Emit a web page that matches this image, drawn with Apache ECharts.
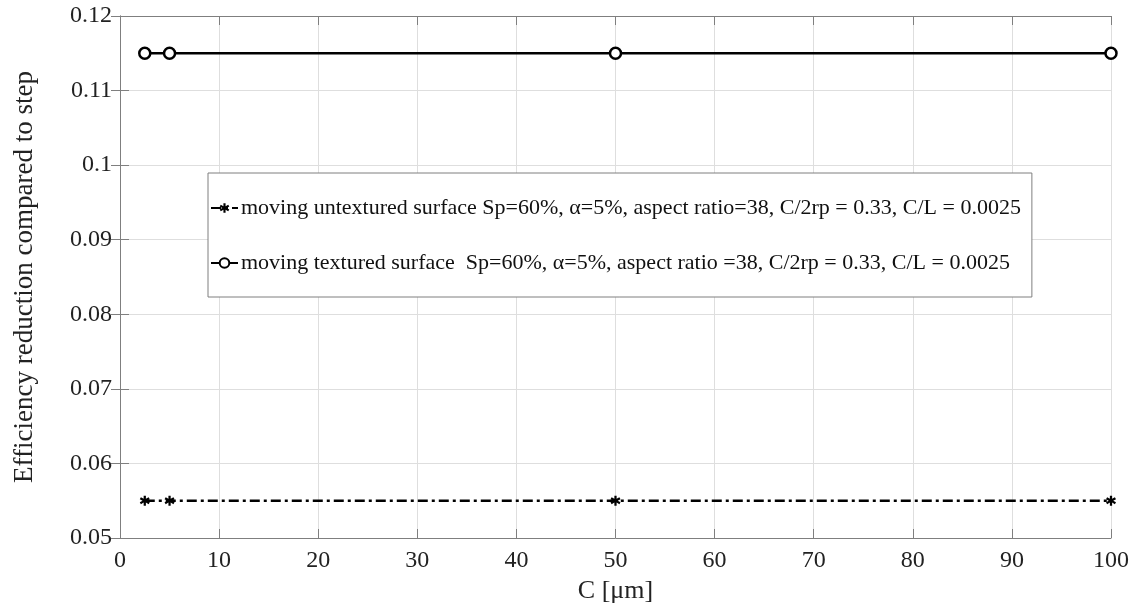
<!DOCTYPE html>
<html>
<head>
<meta charset="utf-8">
<script src="https://cdn.jsdelivr.net/npm/echarts@6/dist/echarts.min.js"></script>
<style>html,body{margin:0;padding:0;background:#fff}#c{width:1134px;height:610px}</style>
</head>
<body>
<div id="c"></div>
<script>
const xValues = [2.5, 5, 50, 100];
const untextured = [0.055, 0.055, 0.055, 0.055];
const textured = [0.115, 0.115, 0.115, 0.115];
const seriesNames = [
  'moving untextured surface Sp=60%, \u03b1=5%, aspect ratio=38, C/2rp = 0.33, C/L = 0.0025',
  'moving textured surface  Sp=60%, \u03b1=5%, aspect ratio =38, C/2rp = 0.33, C/L = 0.0025'
];
const xTitle = 'C [\u03bcm]';
const yTitle = 'Efficiency reduction compared to step';

const font = '"Liberation Serif", "Times New Roman", serif';
const asterisk = 'path://M7.8,0h4.4v6.2l5.4-3.1l2.2,3.8L14.4,10l5.4,3.1l-2.2,3.8l-5.4-3.1V20H7.8v-6.2l-5.4,3.1L0.2,13.1L5.6,10L0.2,6.9l2.2-3.8l5.4,3.1z';
const axisCol = '#7f7f7f';
const gridCol = '#dedede';

const chart = echarts.init(document.getElementById('c'), null, {renderer: 'canvas'});
const baseX = {
  type: 'value', min: 0, max: 100, interval: 10,
  axisLine: {show: true, lineStyle: {color: axisCol}},
  axisTick: {show: true, inside: true, length: 9, lineStyle: {color: axisCol}}
};
const baseY = {
  type: 'value', min: 0.05, max: 0.12, interval: 0.01,
  axisLine: {show: true, lineStyle: {color: axisCol}},
  axisTick: {show: true, inside: true, length: 9, lineStyle: {color: axisCol}}
};
chart.setOption({
  animation: false,
  backgroundColor: '#fff',
  grid: {left: 120, right: 23, top: 16, bottom: 72, show: false},
  legend: {
    orient: 'vertical', left: 208, top: 173,
    padding: [24, 11, 23, 2], itemGap: 33,
    itemWidth: 27, itemHeight: 12,
    backgroundColor: '#fff', borderColor: axisCol, borderWidth: 1,
    textStyle: {fontFamily: font, fontSize: 22, color: '#111', padding: [0, 0, 0, -2]},
    data: seriesNames
  },
  xAxis: [
    Object.assign({}, baseX, {
      position: 'bottom',
      name: xTitle, nameLocation: 'middle', nameGap: 40,
      nameTextStyle: {fontFamily: font, fontSize: 26, color: '#222'},
      axisLabel: {fontFamily: font, fontSize: 24, color: '#222', margin: 11},
      splitLine: {show: true, lineStyle: {color: gridCol, width: 1}}
    }),
    Object.assign({}, baseX, {
      position: 'top', axisLabel: {show: false}, splitLine: {show: false}
    })
  ],
  yAxis: [
    Object.assign({}, baseY, {
      position: 'left',
      name: yTitle, nameLocation: 'middle', nameGap: 82,
      nameTextStyle: {fontFamily: font, fontSize: 27, color: '#222'},
      axisLabel: {fontFamily: font, fontSize: 24, color: '#222', margin: 8,
        formatter: v => String(parseFloat(v.toFixed(4)))},
      splitLine: {show: true, lineStyle: {color: gridCol, width: 1}}
    }),
    Object.assign({}, baseY, {
      position: 'right', axisLabel: {show: false}, splitLine: {show: false}
    })
  ],
  series: [
    {
      name: seriesNames[0], type: 'line', xAxisIndex: 0, yAxisIndex: 0,
      data: xValues.map((x, i) => [x, untextured[i]]),
      symbol: asterisk, symbolSize: 10, showAllSymbol: true,
      lineStyle: {color: '#000', width: 2.5, type: [10, 4, 3, 4]},
      itemStyle: {color: '#000'}
    },
    {
      name: seriesNames[1], type: 'line', xAxisIndex: 0, yAxisIndex: 0,
      data: xValues.map((x, i) => [x, textured[i]]),
      symbol: 'circle', symbolSize: 11, showAllSymbol: true,
      lineStyle: {color: '#000', width: 2.5},
      itemStyle: {color: '#ffffff', borderColor: '#000000', borderWidth: 2.5}
    }
  ]
});
</script>
</body>
</html>
